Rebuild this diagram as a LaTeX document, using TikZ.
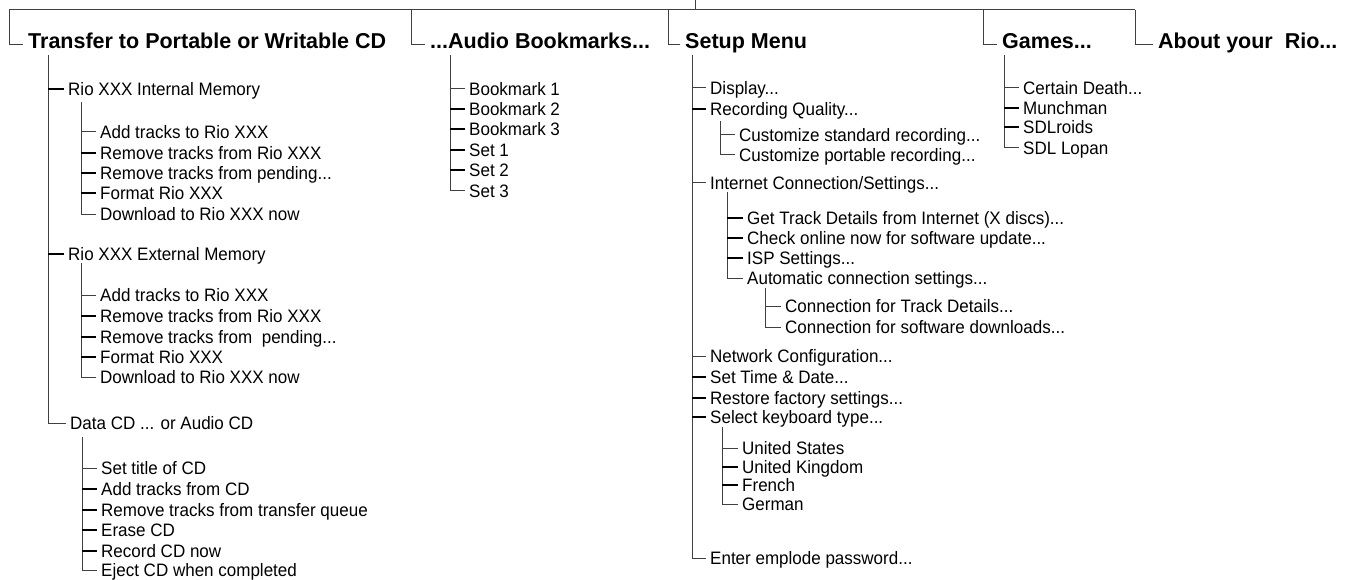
\documentclass[tikz,border=0pt]{standalone}
\usepackage{fontspec}
\newfontfamily\itemfam{Liberation Sans}[FakeStretch=0.945]
\newfontfamily\headfam{Liberation Sans}
\newcommand\itemfont{\itemfam\fontsize{18}{20}\selectfont}
\newcommand\headfont{\headfam\bfseries\fontsize{21.5}{24}\selectfont}
\tikzset{
  stem/.style={draw=black!75, line width=1pt},
  tickA/.style={draw=black!75, line width=1pt},
  tickB/.style={draw=black, line width=1.6pt},
  head/.style={font=\headfont, anchor=west, inner xsep=5pt, inner ysep=0pt, text height=7pt, text depth=0pt},
  item/.style={font=\itemfont, anchor=west, inner xsep=4pt, inner ysep=0pt, text height=13.4pt, text depth=0pt},
}
\begin{document}
\begin{tikzpicture}[x=1pt,y=-1pt]
\useasboundingbox (0,0) rectangle (1351,580);
% ---- headings
\node[head] (h1) at (23,45) {Transfer to Portable or Writable CD};
\node[head] (h2) at (425,45) {...Audio Bookmarks...};
\node[head] (h3) at (680,45) {Setup Menu};
\node[head] (h4) at (997,45) {Games...};
\node[head] (h5) at (1153,45) {About your\ \ Rio...};
% ---- top bar
\coordinate (root) at (695,0);
\coordinate (bar) at (695,10);
\coordinate (d1) at (9,10);
\coordinate (d2) at (411,10);
\coordinate (d3) at (668,10);
\coordinate (d4) at (983,10);
\coordinate (d5) at (1135,10);
\draw[stem] (root) -- (bar);
\draw[stem] (d1) -- (d5);
\draw[stem] (d1) |- (h1.west);
\draw[stem] (d2) |- (h2.west);
\draw[stem] (d3) |- (h3.west);
\draw[stem] (d4) |- (h4.west);
\draw[stem] (d5) |- (h5.west);

% ===== column 1
\coordinate (s1) at (48,55);
\node[item] (rioA) at (64,89) {Rio XXX Internal Memory};
\node[item] (rioB) at (64,254) {Rio XXX External Memory};
\node[item] (dcd) at (66,423) {Data CD ... or Audio CD};
\draw[stem] (s1) |- (dcd.west);
\draw[tickB] (s1 |- rioA.west) -- (rioA.west);
\draw[tickB] (s1 |- rioB.west) -- (rioB.west);

\coordinate (sA) at (81,102);
\node[item] (a1) at (96,132) {Add tracks to Rio XXX};
\node[item] (a2) at (96,153) {Remove tracks from Rio XXX};
\node[item] (a3) at (96,173) {Remove tracks from pending...};
\node[item] (a4) at (96,193) {Format Rio XXX};
\node[item] (a5) at (96,214) {Download to Rio XXX now};
\draw[stem] (sA) |- (a5.west);
\draw[tickA] (sA |- a1.west) -- (a1.west);
\foreach \n in {a2,a3,a4} \draw[tickB] (sA |- \n.west) -- (\n.west);

\coordinate (sB) at (81,263);
\node[item] (b1) at (96,295) {Add tracks to Rio XXX};
\node[item] (b2) at (96,316) {Remove tracks from Rio XXX};
\node[item] (b3) at (96,337) {Remove tracks from\ \ pending...};
\node[item] (b4) at (96,357) {Format Rio XXX};
\node[item] (b5) at (96,377) {Download to Rio XXX now};
\draw[stem] (sB) |- (b5.west);
\draw[tickA] (sB |- b1.west) -- (b1.west);
\foreach \n in {b2,b3,b4} \draw[tickB] (sB |- \n.west) -- (\n.west);

\coordinate (sC) at (82,437);
\node[item] (c1) at (97,468) {Set title of CD};
\node[item] (c2) at (97,489) {Add tracks from CD};
\node[item] (c3) at (97,510) {Remove tracks from transfer queue};
\node[item] (c4) at (97,530) {Erase CD};
\node[item] (c5) at (97,551) {Record CD now};
\node[item] (c6) at (97,570) {Eject CD when completed};
\draw[stem] (sC) |- (c6.west);
\draw[tickA] (sC |- c1.west) -- (c1.west);
\foreach \n in {c2,c3,c4,c5} \draw[tickB] (sC |- \n.west) -- (\n.west);

% ===== column 2
\coordinate (s2) at (450,55);
\node[item] (m1) at (465,89) {Bookmark 1};
\node[item] (m2) at (465,109) {Bookmark 2};
\node[item] (m3) at (465,129) {Bookmark 3};
\node[item] (m4) at (465,150) {Set 1};
\node[item] (m5) at (465,170) {Set 2};
\node[item] (m6) at (465,191) {Set 3};
\draw[stem] (s2) |- (m6.west);
\draw[tickA] (s2 |- m1.west) -- (m1.west);
\foreach \n in {m2,m3,m4,m5} \draw[tickB] (s2 |- \n.west) -- (\n.west);

% ===== column 3
\coordinate (s3) at (692,55);
\node[item] (u1) at (706,88) {Display...};
\node[item] (u2) at (706,109) {Recording Quality...};
\node[item] (u3) at (706,183) {Internet Connection/Settings...};
\node[item] (u4) at (706,356) {Network Configuration...};
\node[item] (u5) at (706,377) {Set Time \& Date...};
\node[item] (u6) at (706,398) {Restore factory settings...};
\node[item] (u7) at (706,417) {Select keyboard type...};
\node[item] (u8) at (706,558) {Enter emplode password...};
\draw[stem] (s3) |- (u8.west);
\draw[tickA] (s3 |- u1.west) -- (u1.west);
\draw[tickB] (s3 |- u2.west) -- (u2.west);
\draw[tickA] (s3 |- u3.west) -- (u3.west);
\draw[tickA] (s3 |- u4.west) -- (u4.west);
\foreach \n in {u5,u6,u7} \draw[tickB] (s3 |- \n.west) -- (\n.west);

\coordinate (sR) at (720,121);
\node[item] (r1) at (735,135) {Customize standard recording...};
\node[item] (r2) at (735,155) {Customize portable recording...};
\draw[stem] (sR) |- (r2.west);
\draw[tickA] (sR |- r1.west) -- (r1.west);

\coordinate (sI) at (727,192);
\node[item] (i1) at (743,218) {Get Track Details from Internet (X discs)...};
\node[item] (i2) at (743,238) {Check online now for software update...};
\node[item] (i3) at (743,258) {ISP Settings...};
\node[item] (i4) at (743,278) {Automatic connection settings...};
\draw[stem] (sI) |- (i4.west);
\foreach \n in {i1,i2,i3} \draw[tickB] (sI |- \n.west) -- (\n.west);

\coordinate (sT) at (765,288);
\node[item] (t1) at (781,306) {Connection for Track Details...};
\node[item] (t2) at (781,327) {Connection for software downloads...};
\draw[stem] (sT) |- (t2.west);
\draw[tickA] (sT |- t1.west) -- (t1.west);

\coordinate (sK) at (722,427);
\node[item] (k1) at (738,448) {United States};
\node[item] (k2) at (738,467) {United Kingdom};
\node[item] (k3) at (738,485) {French};
\node[item] (k4) at (738,504) {German};
\draw[stem] (sK) |- (k4.west);
\draw[tickA] (sK |- k1.west) -- (k1.west);
\foreach \n in {k2,k3} \draw[tickB] (sK |- \n.west) -- (\n.west);

% ===== column 4
\coordinate (s4) at (1004,55);
\node[item] (g1) at (1019,88) {Certain Death...};
\node[item] (g2) at (1019,108) {Munchman};
\node[item] (g3) at (1019,127) {SDLroids};
\node[item] (g4) at (1019,148) {SDL Lopan};
\draw[stem] (s4) |- (g4.west);
\draw[tickA] (s4 |- g1.west) -- (g1.west);
\foreach \n in {g2,g3} \draw[tickB] (s4 |- \n.west) -- (\n.west);
\end{tikzpicture}
\end{document}
